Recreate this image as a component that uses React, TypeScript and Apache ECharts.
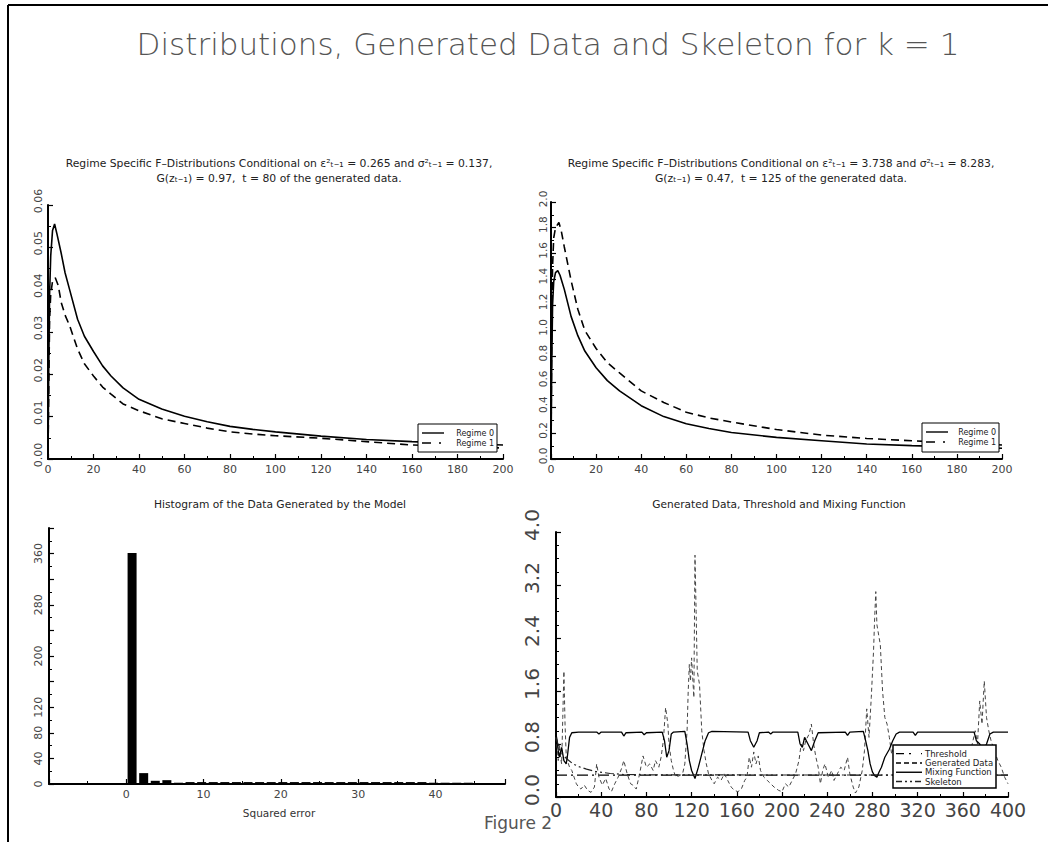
import React, { useEffect, useRef } from 'react';
import * as echarts from 'echarts';

// ---------- data ----------
const tlRegime0: number[][] = [[0,0],[0.3,0.02],[0.7,0.039],[1.2,0.048],[2,0.054],[2.9,0.0555],[4,0.053],[5.8,0.0486],[7.5,0.044],[9.5,0.04],[13,0.033],[16,0.029],[20,0.0254],[24,0.022],[27.7,0.0196],[33,0.0168],[40,0.0141],[50,0.0118],[60,0.0101],[70,0.0088],[80,0.0077],[90,0.007],[100,0.0064],[120,0.0054],[140,0.0046],[160,0.0041],[180,0.0037],[200,0.0033]];
const tlRegime1: number[][] = [[0,0],[0.3,0.015],[0.7,0.033],[1.2,0.039],[2,0.042],[3.2,0.0428],[4.5,0.041],[5.8,0.037],[7.5,0.034],[9.5,0.0315],[13,0.026],[16,0.0225],[20,0.0196],[24,0.017],[27.7,0.0153],[33,0.013],[40,0.0114],[50,0.0095],[60,0.0084],[70,0.0073],[80,0.0064],[90,0.0059],[100,0.0055],[120,0.0049],[140,0.0041],[160,0.0033],[180,0.003],[200,0.0026]];
const trRegime0: number[][] = [[0,0],[0.3,0.7],[0.7,1.2],[1.2,1.38],[2,1.45],[3,1.466],[4,1.43],[5.9,1.32],[8.9,1.11],[11.9,0.96],[15,0.84],[20,0.71],[25,0.61],[30.4,0.53],[40,0.415],[50,0.33],[60,0.275],[70,0.238],[80,0.206],[100,0.168],[120,0.142],[140,0.117],[160,0.104],[180,0.093],[200,0.084]];
const trRegime1: number[][] = [[0,0],[0.3,1.0],[0.7,1.5],[1.2,1.72],[2,1.8],[3.5,1.84],[4.5,1.78],[5.9,1.65],[8.9,1.39],[11.9,1.165],[15,1.0],[20,0.86],[25,0.75],[30.4,0.67],[40,0.53],[50,0.44],[60,0.364],[70,0.32],[80,0.288],[100,0.229],[120,0.186],[140,0.16],[160,0.142],[180,0.125],[200,0.109]];

const histCenters: number[] = [0.75,2.25,3.75,5.25,6.75,8.25,9.75,11.25,12.75,14.25,15.75,17.25,18.75,20.25,21.75,23.25,24.75,26.25,27.75,29.25,30.75,32.25,33.75,35.25,36.75,38.25,39.75,41.25,42.75,44.25];
const histCounts: number[] = [361,17,5,6,2,3,3,3,3,3,3,3,3,3,3,3,3,3,3,3,3,3,3,3,3,3,2,2,2,2];

const generatedData: number[][] = [[0,0.9],[1,0.75],[2,0.55],[3,0.8],[4,0.6],[5,0.5],[6,1.2],[7,1.9],[8,1.1],[9,0.65],[10,0.55],[12,0.45],[14,0.4],[16,0.3],[18,0.2],[20,0.15],[22,0.12],[25,0.18],[28,0.1],[31,0.07],[34,0.15],[36,0.5],[38,0.3],[41,0.18],[44,0.28],[47,0.12],[49,0.08],[52,0.2],[55,0.3],[58,0.43],[60,0.55],[63,0.35],[66,0.2],[68,0.18],[71,0.12],[74,0.35],[77,0.62],[80,0.45],[83,0.5],[86,0.4],[88,0.55],[91,0.45],[93,0.6],[95,0.85],[97,1.35],[99,1.1],[100,0.8],[102,0.55],[104,0.4],[106,0.3],[109,0.32],[112,0.35],[114,0.5],[116,1.0],[117,1.6],[118,2.0],[119,1.75],[120,2.1],[121,1.8],[122,1.5],[123,3.65],[124,2.8],[125,1.9],[127,1.7],[129,1.0],[131,0.7],[133,0.5],[135,0.35],[138,0.25],[140,0.2],[143,0.3],[146,0.25],[149,0.35],[152,0.25],[155,0.15],[158,0.1],[161,0.08],[164,0.12],[167,0.25],[169,0.3],[171,0.6],[173,0.45],[175,0.68],[177,0.5],[179,0.62],[181,0.4],[184,0.3],[187,0.25],[190,0.2],[193,0.15],[197,0.1],[200,0.08],[203,0.2],[206,0.15],[209,0.25],[212,0.35],[215,0.55],[217,0.8],[219,0.7],[221,0.85],[224,0.95],[226,1.1],[228,0.8],[230,0.6],[232,0.45],[234,0.2],[236,0.4],[238,0.5],[241,0.3],[244,0.4],[246,0.25],[249,0.35],[252,0.45],[255,0.4],[258,0.6],[260,0.35],[263,0.15],[265,0.06],[268,0.15],[271,0.4],[273,0.7],[275,1.33],[277,0.9],[279,1.5],[281,2.2],[282,2.7],[283,3.1],[284,2.6],[285,2.5],[287,2.3],[289,1.6],[291,1.2],[293,1.1],[295,0.9],[297,0.65],[299,0.75],[301,0.55],[304,0.45],[308,0.35],[312,0.3],[316,0.4],[320,0.25],[324,0.3],[328,0.2],[332,0.35],[336,0.45],[340,0.3],[344,0.25],[348,0.35],[352,0.3],[356,0.45],[360,0.35],[364,0.5],[367,0.7],[369,0.85],[371,1.0],[373,0.8],[375,1.45],[377,1.1],[379,1.75],[381,1.2],[383,1.0],[385,0.85],[388,0.7],[391,0.55],[394,0.45],[397,0.3],[400,0.2]];
const mixingFunction: number[][] = [[0,0.95],[1,0.85],[2,0.7],[3,0.6],[5,0.75],[7,0.55],[9,0.5],[10,0.6],[12,0.9],[14,0.97],[20,0.98],[36,0.98],[38,0.95],[40,0.98],[58,0.98],[60,0.92],[62,0.97],[76,0.98],[78,0.94],[80,0.97],[94,0.98],[96,0.85],[98,0.6],[100,0.7],[102,0.95],[104,0.98],[114,0.99],[116,0.8],[118,0.55],[120,0.4],[123,0.28],[126,0.45],[129,0.65],[132,0.85],[135,0.97],[138,0.99],[170,0.98],[172,0.85],[175,0.75],[178,0.85],[180,0.97],[188,0.98],[190,0.95],[192,0.98],[214,0.98],[216,0.8],[218,0.75],[220,0.9],[223,0.8],[226,0.7],[229,0.85],[232,0.97],[256,0.98],[258,0.93],[260,0.98],[272,0.99],[274,0.85],[276,0.7],[278,0.5],[280,0.38],[282,0.32],[284,0.3],[286,0.38],[288,0.45],[291,0.6],[295,0.72],[298,0.85],[301,0.95],[304,0.98],[316,0.98],[318,0.93],[320,0.98],[370,0.98],[372,0.85],[375,0.8],[378,0.7],[381,0.8],[384,0.95],[387,0.98],[400,0.98]];
const skeleton: number[][] = [[0,0.9],[3,0.72],[6,0.63],[10,0.57],[15,0.5],[20,0.46],[27,0.42],[35,0.385],[48,0.355],[60,0.34],[80,0.335],[120,0.333],[200,0.332],[400,0.332]];
const threshold: number[][] = [[0,0.33],[400,0.33]];

const mainTitle = 'Distributions, Generated Data and Skeleton for k = 1';
const tlTitle1 = 'Regime Specific F\u2013Distributions Conditional on \u03b5\u00b2\u209c\u208b\u2081 = 0.265 and \u03c3\u00b2\u209c\u208b\u2081 = 0.137,';
const tlTitle2 = 'G(z\u209c\u208b\u2081) = 0.97,  t = 80 of the generated data.';
const trTitle1 = 'Regime Specific F\u2013Distributions Conditional on \u03b5\u00b2\u209c\u208b\u2081 = 3.738 and \u03c3\u00b2\u209c\u208b\u2081 = 8.283,';
const trTitle2 = 'G(z\u209c\u208b\u2081) = 0.47,  t = 125 of the generated data.';
const blTitle = 'Histogram of the Data Generated by the Model';
const brTitle = 'Generated Data, Threshold and Mixing Function';
const blXName = 'Squared error';
const figLabel = 'Figure 2';
const regimeNames = ['Regime 0', 'Regime 1'];
const brNames = ['Threshold', 'Generated Data', 'Mixing Function', 'Skeleton'];

const FONT = 'DejaVu Sans';

// line styles
const STY: Record<string, any> = {
  'Regime 0': { color: '#000', width: 1.6, type: 'solid', dash: null },
  'Regime 1': { color: '#000', width: 1.6, type: [8, 5], dash: [9, 8, 2, 6] },
  'Threshold': { color: '#000', width: 1.3, type: [11, 4, 2, 4], dash: [8, 5, 2, 10] },
  'Generated Data': { color: '#444', width: 1, type: [4, 3], dash: [5, 3] },
  'Mixing Function': { color: '#000', width: 1.3, type: 'solid', dash: null },
  'Skeleton': { color: '#222', width: 1.2, type: [9, 3, 2, 3, 2, 3], dash: [6, 3, 2, 3, 2, 3] },
};

function axisX(gridIndex: number, min: number, max: number, interval: number, fontSize: number, margin: number, labelExtra: any = {}) {
  return {
    type: 'value', gridIndex, min, max, interval,
    axisLine: { show: true, onZero: false, lineStyle: { color: '#000', width: 2 } },
    axisTick: { show: true, inside: true, length: 5, lineStyle: { color: '#000', width: 1.2 } },
    minorTick: { show: true, splitNumber: 2, length: 3, lineStyle: { color: '#000' } },
    splitLine: { show: false },
    axisLabel: { fontFamily: FONT, fontSize, color: '#444', margin, ...labelExtra },
  };
}
function axisY(gridIndex: number, min: number, max: number, interval: number, fontSize: number, margin: number, formatter: any, minorSplit: number, labelExtra: any = {}) {
  return {
    type: 'value', gridIndex, min, max, interval,
    axisLine: { show: true, onZero: false, lineStyle: { color: '#000', width: 2 } },
    axisTick: { show: true, inside: true, length: 5, lineStyle: { color: '#000', width: 1.2 } },
    minorTick: { show: true, splitNumber: minorSplit, length: 3, lineStyle: { color: '#000' } },
    splitLine: { show: false },
    axisLabel: { fontFamily: FONT, fontSize, color: '#444', margin, rotate: 90, formatter, ...labelExtra },
  };
}

function legendBox(x: number, y: number, w: number, h: number, names: string[], rowH: number, lineX: number, lineW: number, textX: number, textAlign: string, fontSize: number, borderW: number) {
  const els: any[] = [
    { type: 'rect', z: 50, shape: { x, y, width: w, height: h }, style: { fill: '#fff', stroke: '#000', lineWidth: borderW } },
  ];
  names.forEach((n, i) => {
    const cy = y + 6 + rowH * i + rowH / 2 - 2;
    const s = STY[n];
    els.push({ type: 'line', z: 51, shape: { x1: lineX, y1: cy, x2: lineX + lineW, y2: cy }, style: { stroke: s.color === '#444' ? '#000' : s.color, lineWidth: 1.4, lineDash: s.dash || undefined } });
    els.push({ type: 'text', z: 51, x: textX, y: cy, style: { text: n, fontFamily: FONT, fontSize, fill: '#222', align: textAlign, verticalAlign: 'middle' } });
  });
  return els;
}

export default function App() {
  const ref = useRef<HTMLDivElement>(null);
  useEffect(() => {
    document.body.style.margin = '0';
    const chart = echarts.init(ref.current!, null, { renderer: 'svg' });
    const lineS = (name: string, data: number[][], xi: number) => {
      const s = STY[name];
      return {
        name, type: 'line', xAxisIndex: xi, yAxisIndex: xi, data, showSymbol: false, symbol: 'none',
        lineStyle: { color: s.color, width: s.width, type: s.type }, itemStyle: { color: s.color }, z: 3,
      };
    };
    chart.setOption({
      animation: false,
      backgroundColor: '#fff',
      grid: [
        { left: 48, top: 205, width: 455, height: 254 },
        { left: 551, top: 202, width: 451, height: 257 },
        { left: 49, top: 528, width: 456, height: 256 },
        { left: 556, top: 532, width: 452, height: 265 },
      ],
      xAxis: [
        axisX(0, 0, 200, 20, 11, 5),
        axisX(1, 0, 200, 20, 11, 5),
        axisX(2, -10, 49, 10, 11, 5, { showMinLabel: false, showMaxLabel: false }),
        axisX(3, 0, 400, 40, 19, 3),
      ],
      yAxis: [
        axisY(0, 0, 0.06, 0.01, 11, 4, (v: number) => v.toFixed(2), 2, { padding: [0, 0, 0, 8] }),
        axisY(1, 0, 2, 0.2, 10.5, 3, (v: number) => v.toFixed(1), 2, { padding: [0, 0, 0, 6] }),
        axisY(2, 0, 400, 40, 11, 5, (v: number) => ([160, 240, 320, 400].indexOf(Math.round(v)) >= 0 ? '' : String(Math.round(v))), 2),
        axisY(3, 0, 4, 0.8, 20, 14, (v: number) => v.toFixed(1), 4, { padding: [0, 0, 0, 14] }),
      ],
      series: [
        lineS('Regime 0', tlRegime0, 0),
        lineS('Regime 1', tlRegime1, 0),
        lineS('Regime 0', trRegime0, 1),
        lineS('Regime 1', trRegime1, 1),
        {
          name: 'Histogram', type: 'bar', xAxisIndex: 2, yAxisIndex: 2, barWidth: 9,
          data: histCenters.map((c, i) => [c, histCounts[i]]),
          itemStyle: { color: '#000' },
        },
        lineS('Threshold', threshold, 3),
        lineS('Generated Data', generatedData, 3),
        lineS('Mixing Function', mixingFunction, 3),
        lineS('Skeleton', skeleton, 3),
      ],
      graphic: [
        { type: 'line', shape: { x1: 8, y1: 5, x2: 1048, y2: 5 }, style: { stroke: '#000', lineWidth: 2 } },
        { type: 'line', shape: { x1: 8, y1: 5, x2: 8, y2: 842 }, style: { stroke: '#000', lineWidth: 2 } },
        { type: 'text', x: 548, y: 44, style: { text: mainTitle, fontFamily: FONT, fontSize: 31, fontWeight: 200, fill: '#555', align: 'center', verticalAlign: 'middle' } },
        { type: 'text', x: 279, y: 163, style: { text: tlTitle1, fontFamily: FONT, fontSize: 10.8, fill: '#222', align: 'center', verticalAlign: 'middle' } },
        { type: 'text', x: 279, y: 178, style: { text: tlTitle2, fontFamily: FONT, fontSize: 10.8, fill: '#222', align: 'center', verticalAlign: 'middle' } },
        { type: 'text', x: 781, y: 163, style: { text: trTitle1, fontFamily: FONT, fontSize: 10.8, fill: '#222', align: 'center', verticalAlign: 'middle' } },
        { type: 'text', x: 781, y: 178, style: { text: trTitle2, fontFamily: FONT, fontSize: 10.8, fill: '#222', align: 'center', verticalAlign: 'middle' } },
        { type: 'text', x: 280, y: 504, style: { text: blTitle, fontFamily: FONT, fontSize: 10.7, fill: '#222', align: 'center', verticalAlign: 'middle' } },
        { type: 'text', x: 779, y: 504, style: { text: brTitle, fontFamily: FONT, fontSize: 10.6, fill: '#222', align: 'center', verticalAlign: 'middle' } },
        { type: 'text', x: 279, y: 813, style: { text: blXName, fontFamily: FONT, fontSize: 10.5, fill: '#333', align: 'center', verticalAlign: 'middle' } },
        { type: 'text', x: 518, y: 823, style: { text: figLabel, fontFamily: FONT, fontSize: 17, fill: '#555', align: 'center', verticalAlign: 'middle' } },
        ...legendBox(418, 424, 79, 28, regimeNames, 10, 422, 22, 494, 'right', 8, 1),
        ...legendBox(922, 423, 77, 29, regimeNames, 10, 926, 22, 996, 'right', 8, 1),
        ...legendBox(893, 745, 103, 43, brNames, 9.3, 896, 26, 925, 'left', 8.5, 1.5),
      ],
    });
    return () => chart.dispose();
  }, []);
  return <div ref={ref} style={{ width: 1048, height: 842 }} />;
}
